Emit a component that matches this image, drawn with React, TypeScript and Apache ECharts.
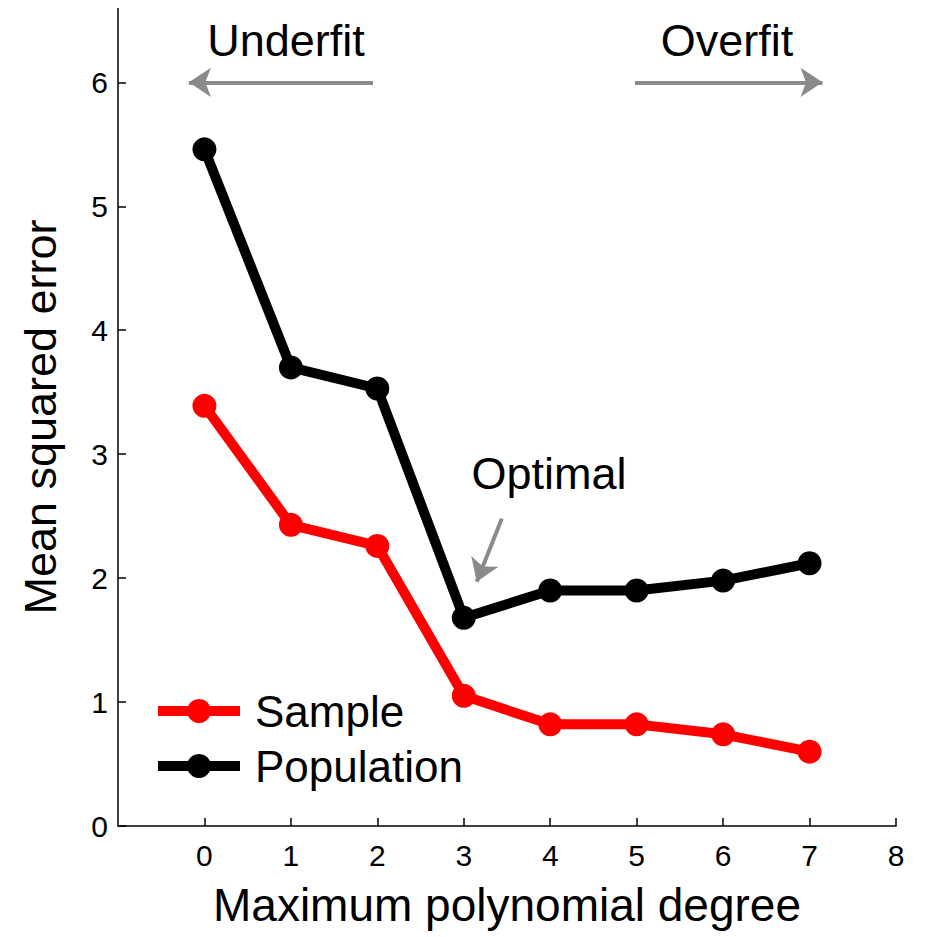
import React, { useEffect, useRef } from "react";
import * as echarts from "echarts";

const degrees = [0, 1, 2, 3, 4, 5, 6, 7];
const sampleMSE = [3.39, 2.43, 2.26, 1.05, 0.82, 0.82, 0.74, 0.6];
const populationMSE = [5.46, 3.7, 3.53, 1.68, 1.9, 1.9, 1.98, 2.12];
const xTicks = [0, 1, 2, 3, 4, 5, 6, 7, 8];
const yTicks = [0, 1, 2, 3, 4, 5, 6];

const FONT = "Liberation Sans, Arial, Helvetica, sans-serif";
const GRAY = "#8a8a8a";

export default function App() {
  const ref = useRef<HTMLDivElement>(null);
  useEffect(() => {
    if (!ref.current) return;
    const chart = echarts.init(ref.current, null, { renderer: "svg" });
    const arrowLine = (from: number[], to: number[]) => [
      { coord: from, symbol: "none" },
      { coord: to, symbol: "arrow" },
    ];
    chart.setOption({
      animation: false,
      textStyle: { fontFamily: FONT },
      grid: { left: 110, right: 22, top: 0, bottom: 111, outerBoundsMode: "none", containLabel: false },
      xAxis: {
        type: "value",
        min: -1,
        max: 8,
        interval: 1,
        name: "Maximum polynomial degree",
        nameLocation: "middle",
        nameGap: 56,
        nameTextStyle: { fontSize: 46, color: "#000", fontFamily: FONT, verticalAlign: "top" },
        splitLine: { show: false },
        axisLine: { onZero: false, lineStyle: { color: "#000", width: 1.5 } },
        axisTick: { inside: true, length: 8, lineStyle: { color: "#000", width: 1.5 }, customValues: xTicks },
        axisLabel: { fontSize: 30, color: "#000", margin: 14, customValues: xTicks },
      },
      yAxis: {
        type: "value",
        min: 0,
        max: 6.6,
        interval: 1,
        name: "Mean squared error",
        nameLocation: "middle",
        nameGap: 55,
        nameTextStyle: { fontSize: 45, color: "#000", fontFamily: FONT },
        splitLine: { show: false },
        axisLine: { show: true, onZero: false, lineStyle: { color: "#000", width: 1.5 } },
        axisTick: { show: true, inside: true, length: 8, lineStyle: { color: "#000", width: 1.5 }, customValues: yTicks },
        axisLabel: { fontSize: 30, color: "#000", margin: 10, customValues: yTicks },
      },
      legend: {
        orient: "vertical",
        left: 145,
        top: 681,
        padding: 0,
        itemWidth: 82,
        itemHeight: 30,
        itemGap: 11,
        lineStyle: { width: 10 },
        textStyle: { fontSize: 44, color: "#000", fontFamily: FONT, padding: [0, 0, 0, 10] },
        data: ["Sample", "Population"],
      },
      series: [
        {
          name: "Sample",
          type: "line",
          data: degrees.map((d, i) => [d, sampleMSE[i]]),
          symbol: "circle",
          symbolSize: 24,
          lineStyle: { color: "#ff0000", width: 10 },
          itemStyle: { color: "#ff0000" },
          markLine: {
            silent: true,
            symbolSize: [22, 22],
            label: { show: false },
            lineStyle: { color: GRAY, width: 4, type: "solid" },
            data: [
              arrowLine([1.95, 6], [-0.18, 6]),
              arrowLine([4.98, 6], [7.15, 6]),
              arrowLine([3.44, 2.48], [3.15, 1.97]),
            ],
          },
        },
        {
          name: "Population",
          type: "line",
          data: degrees.map((d, i) => [d, populationMSE[i]]),
          symbol: "circle",
          symbolSize: 24,
          lineStyle: { color: "#000", width: 10 },
          itemStyle: { color: "#000" },
        },
      ],
      graphic: [
        { type: "text", x: 278, y: 32, style: { text: "Underfit", fontSize: 45, fill: "#000", fontFamily: FONT, align: "center", verticalAlign: "middle" } },
        { type: "text", x: 719, y: 32, style: { text: "Overfit", fontSize: 45, fill: "#000", fontFamily: FONT, align: "center", verticalAlign: "middle" } },
        { type: "text", x: 541, y: 465, style: { text: "Optimal", fontSize: 45, fill: "#000", fontFamily: FONT, align: "center", verticalAlign: "middle" } },
      ],
    });
    return () => chart.dispose();
  }, []);
  return <div ref={ref} style={{ width: 910, height: 929 }} />;
}
